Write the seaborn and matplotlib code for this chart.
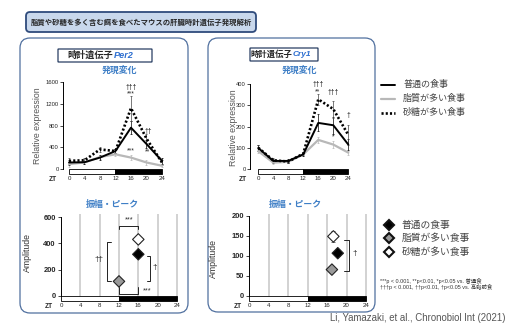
import matplotlib
matplotlib.use("Agg")
import matplotlib.pyplot as plt
from matplotlib.patches import FancyBboxPatch, Rectangle
import pandas as pd
import seaborn as sns

sns.set_theme(style="white")
plt.rcParams["font.family"] = ["Liberation Sans", "Noto Sans CJK JP", "DejaVu Sans"]
CJK = ["Noto Sans CJK JP", "DejaVu Sans"]

W, H = 522, 330

# data
zt = [0, 4, 8, 12, 16, 20, 24]
diets = ["普通の食事", "脂質が多い食事", "砂糖が多い食事"]

per2_normal = [120, 125, 210, 330, 760, 460, 150]
per2_fat = [90, 120, 220, 270, 210, 120, 60]
per2_sugar = [150, 160, 360, 330, 1120, 560, 120]
per2_normal_err = [50, 30, 40, 40, 120, 80, 50]
per2_fat_err = [60, 30, 30, 30, 40, 40, 30]
per2_sugar_err = [50, 40, 40, 40, 230, 80, 40]

cry1_normal = [99, 38, 38, 69, 217, 206, 115]
cry1_fat = [84, 30, 34, 69, 137, 115, 77]
cry1_sugar = [100, 41, 35, 72, 328, 282, 160]
cry1_normal_err = [15, 10, 8, 8, 40, 40, 25]
cry1_fat_err = [10, 8, 8, 8, 15, 15, 10]
cry1_sugar_err = [15, 10, 8, 8, 25, 40, 45]

per2_marks = [("†††", 16, 1500), ("***", 16, 1390), ("††", 20.6, 690),
              ("***", 16, 330), ("**", 20.3, 320)]
cry1_marks = [("†††", 16, 397), ("**", 15.8, 365), ("†††", 20, 358),
              ("†", 24, 250), ("*", 20, 150)]

# amplitude / peak (order: normal, fat, sugar)
per2_peak = [16.0, 12.0, 16.0]
per2_amp = [317, 111, 430]
per2_amp_err = [20, 12, 25]
cry1_peak = [18.2, 17.0, 17.3]
cry1_amp = [107, 66, 149]
cry1_amp_err = [8, 5, 14]

line_colors = {"普通の食事": "black", "脂質が多い食事": "#b8b8b8", "砂糖が多い食事": "black"}
line_widths = {"普通の食事": 1.4, "脂質が多い食事": 1.6, "砂糖が多い食事": 1.9}
line_styles = {"普通の食事": "-", "脂質が多い食事": "-", "砂糖が多い食事": (0, (0.8, 0.8))}
marker_fill = {"普通の食事": "black", "脂質が多い食事": "#9a9a9a", "砂糖が多い食事": "white"}
blue = "#3f7fc6"

fig = plt.figure(figsize=(W / 100, H / 100), dpi=100)
bg = fig.add_axes([0, 0, 1, 1], zorder=0)
bg.set_xlim(0, W)
bg.set_ylim(H, 0)
bg.axis("off")


def px_axes(x0, y0, x1, y1):
    ax = fig.add_axes([x0 / W, 1 - y1 / H, (x1 - x0) / W, (y1 - y0) / H], zorder=2)
    ax.patch.set_alpha(0)
    return ax


def rbox(x0, y0, x1, y1, r, fc, ec, lw):
    bg.add_patch(FancyBboxPatch((x0, y0), x1 - x0, y1 - y0,
                                boxstyle=f"round,pad=0,rounding_size={r}",
                                fc=fc, ec=ec, lw=lw))


def light_dark(ax, depth):
    ax.add_patch(Rectangle((0, -depth), 12, depth, fc="white", ec="black", lw=0.6, clip_on=False))
    ax.add_patch(Rectangle((12, -depth), 12, depth, fc="black", ec="black", lw=0.6, clip_on=False))


def line_panel(ax, series, errs, ylim, yticks, marks):
    for d in [diets[1], diets[0], diets[2]]:
        df = pd.DataFrame({"ZT": zt, "expr": series[d]})
        ax.errorbar(zt, series[d], yerr=errs[d], fmt="none", ecolor=line_colors[d] if d != diets[2] else "#444",
                    elinewidth=0.5, capsize=1.0, capthick=0.5, zorder=3)
        sns.lineplot(data=df, x="ZT", y="expr", color=line_colors[d], lw=line_widths[d],
                     linestyle=line_styles[d], ax=ax, zorder=4)
    for s, x, y in marks:
        ax.text(x, y, s, ha="center", va="center", fontsize=4.8, color="#222")
    light_dark(ax, -ylim[0])
    ax.set_xlim(-ax_pad[ax], 24.5)
    ax.set_ylim(*ylim)
    for sp in ["top", "right", "bottom"]:
        ax.spines[sp].set_visible(False)
    ax.spines["left"].set_bounds(0, yticks[-1])
    ax.spines["left"].set_linewidth(0.7)
    ax.spines["left"].set_color("black")
    ax.set_yticks(yticks)
    ax.set_xticks(zt)
    ax.tick_params(axis="y", direction="out", length=2, width=0.6, labelsize=4.2, pad=1, left=True)
    ax.tick_params(axis="x", length=0, labelsize=4.4, pad=1.8)
    ax.set_xlabel("")
    ax.set_ylabel("")


def amp_panel(ax, peaks, amps, amp_err, ylim, yticks):
    for z in [4, 8, 12, 16, 20, 24]:
        ax.axvline(z, color="#cbcbcb", lw=1.2, zorder=1)
    df = pd.DataFrame({"peak": peaks, "amp": amps, "diet": diets})
    ax.errorbar(peaks, amps, yerr=amp_err, xerr=0.3, fmt="none", ecolor="#333",
                elinewidth=0.5, capsize=1.2, capthick=0.5, zorder=3)
    sns.scatterplot(data=df, x="peak", y="amp", hue="diet", palette=marker_fill, marker="D",
                    s=34, edgecolor="#222", linewidth=0.8, legend=False, ax=ax, zorder=5)
    light_dark(ax, -ylim[0])
    ax.set_xlim(0, 24.4)
    ax.set_ylim(*ylim)
    for sp in ["top", "right", "bottom"]:
        ax.spines[sp].set_visible(False)
    ax.spines["left"].set_bounds(0, yticks[-1])
    ax.spines["left"].set_linewidth(0.7)
    ax.spines["left"].set_color("black")
    ax.set_yticks(yticks)
    ax.set_xticks([0, 4, 8, 12, 16, 20, 24])
    ax.tick_params(axis="y", direction="out", length=2.2, width=0.6, labelsize=5.4, pad=1.5, left=True)
    ax.tick_params(axis="x", length=0, labelsize=4.4, pad=1.2)
    for lab in ax.get_yticklabels():
        lab.set_fontweight("bold")
    ax.set_xlabel("")
    ax.set_ylabel("")


def bracket_v(ax, x, y0, y1, tick, text, tx, ty, size=6):
    ax.plot([x + tick, x, x, x + tick], [y0, y0, y1, y1], color="#222", lw=0.7, zorder=2)
    ax.text(tx, ty, text, ha="center", va="center", fontsize=size, color="#222")


# ---- decorations -------------------------------------------------------
rbox(26, 12, 256, 32, 4, "#c9d8ec", "#2f4b7c", 1.3)
bg.text(141, 22.5, "脂質や砂糖を多く含む餌を食べたマウスの肝臓時計遺伝子発現解析",
        ha="center", va="center", fontsize=5.3, fontweight="bold", family=CJK)

rbox(20, 38, 188, 313, 10, "none", "#50709f", 0.9)
rbox(208, 38, 375, 312, 10, "none", "#50709f", 0.9)

rbox(58, 49, 152, 62, 0.5, "white", "#2a3f63", 0.9)
bg.text(113, 55.8, "時計遺伝子", ha="right", va="center", fontsize=6.6, fontweight="bold", family=CJK)
bg.text(114, 55.8, "Per2", ha="left", va="center", fontsize=6.6, fontweight="bold",
        style="italic", color="#2e6fd0")
rbox(250, 48, 318, 61, 0.5, "white", "#2a3f63", 0.9)
bg.text(292, 54.8, "時計遺伝子", ha="right", va="center", fontsize=6.0, fontweight="bold", family=CJK)
bg.text(293, 54.8, "Cry1", ha="left", va="center", fontsize=6.0, fontweight="bold",
        style="italic", color="#2e6fd0")

for cx, cy, s in [(120, 70, "発現変化"), (300, 70, "発現変化"),
                  (112, 204, "振幅・ピーク"), (295, 205, "振幅・ピーク")]:
    bg.text(cx, cy, s, ha="center", va="center", fontsize=6.4, fontweight="bold",
            color=blue, family=CJK)

for x, y in [(37, 126), (233, 128)]:
    bg.text(x, y, "Relative expression", rotation=90, ha="center", va="center",
            fontsize=6.3, color="#555")
for x, y in [(27, 252), (213, 258)]:
    bg.text(x, y, "Amplitude", rotation=90, ha="center", va="center", fontsize=6.3, color="#333")
for x, y in [(53, 179.5), (243, 179.5), (49, 306.5), (238, 306.5)]:
    bg.text(x, y, "ZT", ha="center", va="center", fontsize=4.8, fontweight="bold")

# ---- line charts -------------------------------------------------------
ax1 = px_axes(63, 79.3, 163.9, 174)
ax2 = px_axes(250, 81.9, 350.2, 174)
ax_pad = {ax1: 1.55, ax2: 2.2}
line_panel(ax1, dict(zip(diets, [per2_normal, per2_fat, per2_sugar])),
           dict(zip(diets, [per2_normal_err, per2_fat_err, per2_sugar_err])),
           (-92, 1650), [0, 400, 800, 1200, 1600], per2_marks)
line_panel(ax2, dict(zip(diets, [cry1_normal, cry1_fat, cry1_sugar])),
           dict(zip(diets, [cry1_normal_err, cry1_fat_err, cry1_sugar_err])),
           (-23.5, 410), [0, 100, 200, 300, 400], cry1_marks)

# ---- amplitude / peak --------------------------------------------------
ax3 = px_axes(61, 214.4, 178.9, 301)
ax4 = px_axes(249, 214, 368, 301)
amp_panel(ax3, per2_peak, per2_amp, per2_amp_err, (-38, 620), [0, 200, 400, 600])
amp_panel(ax4, cry1_peak, cry1_amp, cry1_amp_err, (-12.5, 205), [0, 50, 100, 150, 200])

top = max(per2_amp) + 105
ax3.plot([per2_peak[1], per2_peak[1], per2_peak[0], per2_peak[0]], [top - 25, top, top, top - 25],
         color="#222", lw=0.7)
ax3.text(14, top + 42, "***", ha="center", va="center", fontsize=5.2)
ax3.plot([per2_peak[1], per2_peak[1], per2_peak[0], per2_peak[0]], [70, 18, 18, 70],
         color="#222", lw=0.7)
ax3.text(17.9, 42, "***", ha="center", va="center", fontsize=5.2)
bracket_v(ax3, 9.5, per2_amp[1] + 5, per2_amp[2] - 18, 0.8, "††", 7.9, 280)
bracket_v(ax3, 18.5, per2_amp[1] + 5, per2_amp[0] - 16, -0.8, "†", 19.5, 214)
bracket_v(ax4, 20.6, cry1_amp[1] - 4, cry1_amp[2] - 9, -1.1, "†", 21.7, 107)

# ---- legends -----------------------------------------------------------
for i, d in enumerate(diets):
    y = 84.5 + i * 14
    bg.plot([381, 395], [y, y], color=line_colors[d], lw=line_widths[d], linestyle=line_styles[d])
    bg.text(403, y, d, ha="left", va="center", fontsize=6.5, color="#444", family=CJK)
for i, d in enumerate(diets):
    y = 224.5 + i * 13.6
    bg.plot([389], [y], marker="D", ms=5.4, mfc=marker_fill[d], mec="#111", mew=1.5)
    bg.text(402, y, d, ha="left", va="center", fontsize=7.0, color="#444", family=CJK)

bg.text(380, 281, "***p < 0.001, **p<0.01, *p<0.05 vs. 普通食", ha="left", va="center",
        fontsize=3.9, color="#333")
bg.text(380, 287.5, "†††p < 0.001, ††p<0.01, †p<0.05 vs. 高脂肪食", ha="left", va="center",
        fontsize=3.9, color="#333")
bg.text(330, 318, "Li, Yamazaki, et al., Chronobiol Int (2021)", ha="left", va="center",
        fontsize=6.9, color="#555")

fig.savefig("out.png", dpi=100)
